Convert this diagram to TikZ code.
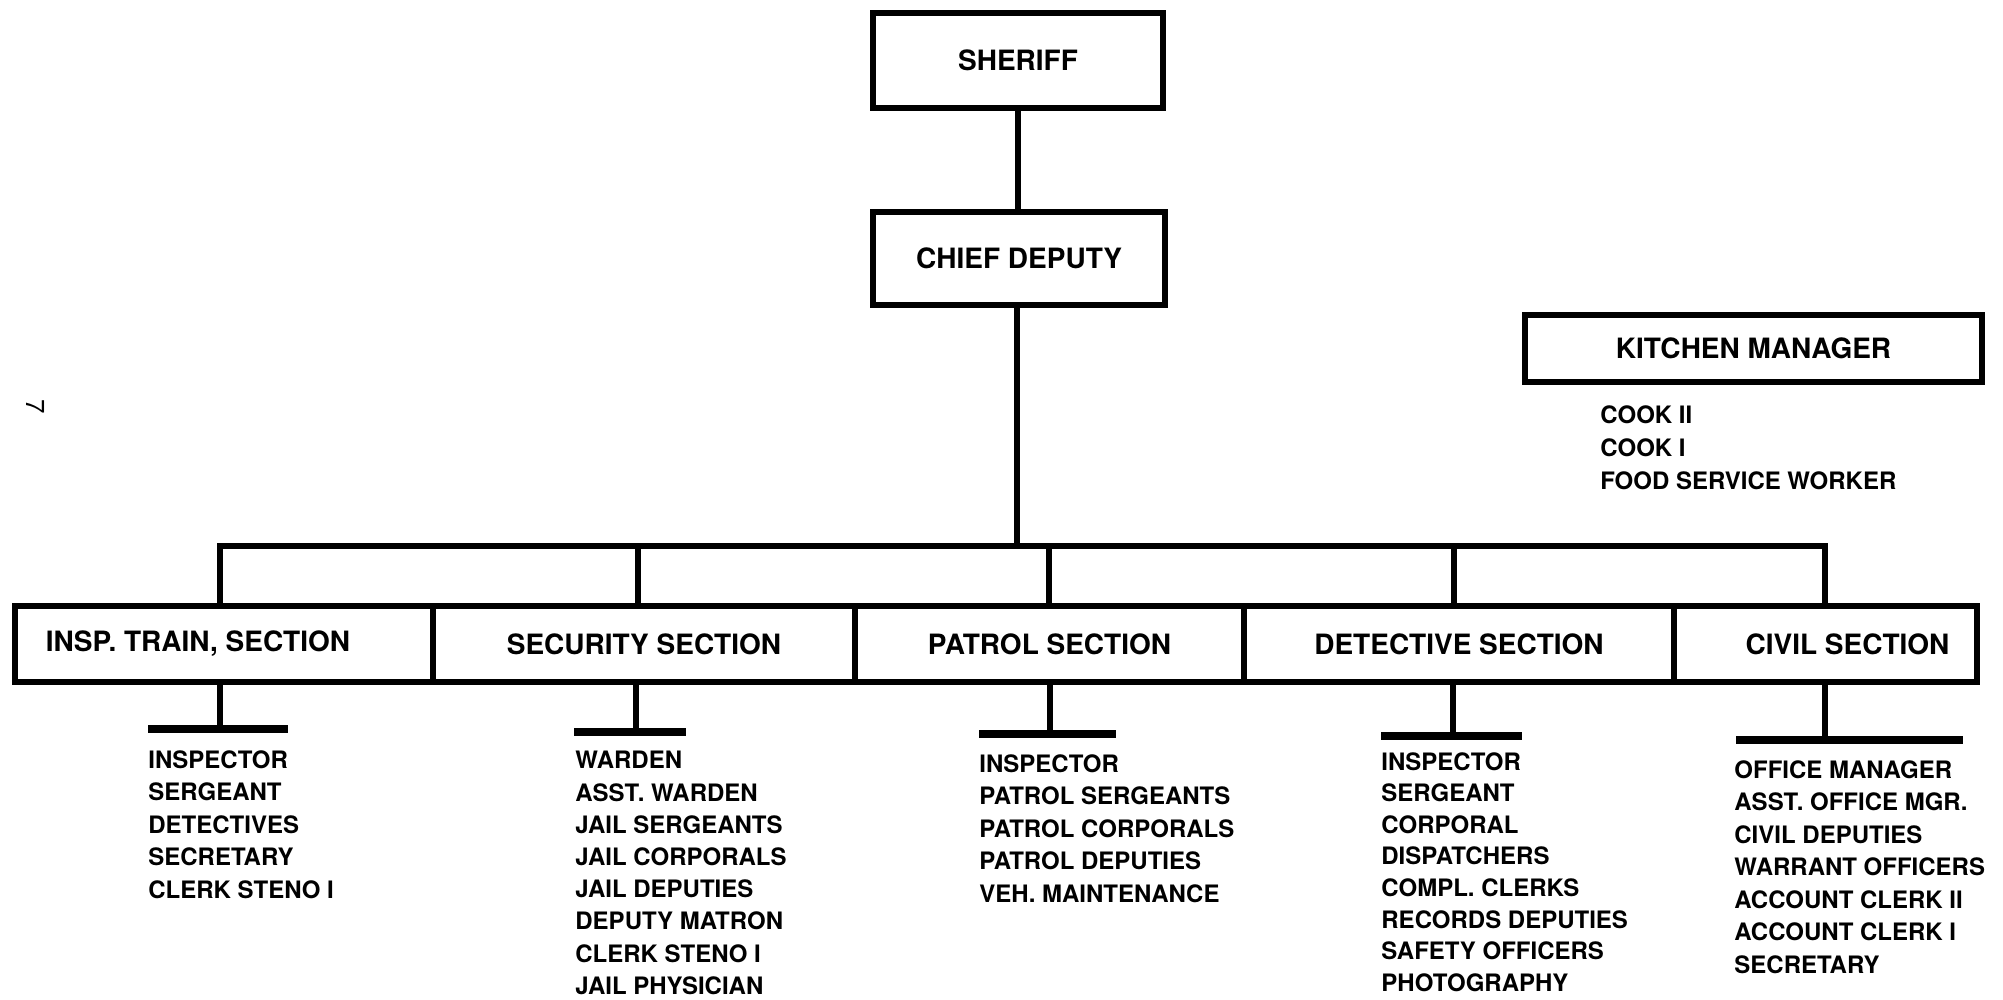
\documentclass[tikz,border=0pt]{standalone}
\usepackage{fontspec}
\setmainfont{TeX Gyre Heros}
\begin{document}
\begin{tikzpicture}[x=0.5pt,y=-0.5pt,
  box/.style={draw,line width=2.8pt,inner sep=0pt,font=\fontsize{14}{16}\selectfont\bfseries},
  secbox/.style={box,minimum height=38pt},
  link/.style={line width=2.8pt},
  bar/.style={line width=3.6pt},
  list/.style={anchor=north west,inner sep=0pt,align=left,font=\fontsize{12}{16.25}\selectfont\bfseries}]
\fill[white] (0,0) rectangle (2003,1000);
\useasboundingbox (0,0) rectangle (2003,1000);

% top boxes
\node[box,minimum width=145pt,minimum height=47.5pt] (sheriff) at (1018,60.5) {SHERIFF};
\node[box,minimum width=146pt,minimum height=46.5pt] (chief) at (1019,258.5) {CHIEF DEPUTY};
\node[box,minimum width=228.5pt,minimum height=33.5pt] (kitchen) at (1753.5,348.5) {KITCHEN MANAGER};
\node[list,font=\fontsize{12}{16.5}\selectfont\bfseries] (kitchenlist) at (1600,405) {COOK II\\COOK I\\FOOD SERVICE WORKER};

% page number
\node[rotate=-90,inner sep=0pt,font=\fontsize{13}{13}\selectfont] (pagenum) at (36,407) {7};

% sections
\node[secbox,minimum width=209pt] (insp) at (224,644) {\hspace*{-26pt}INSP. TRAIN, SECTION};
\node[secbox,minimum width=211pt] (sec) at (644,644) {SECURITY SECTION};
\node[secbox,minimum width=194.5pt] (patrol) at (1049.5,644) {PATROL SECTION};
\node[secbox,minimum width=215pt] (det) at (1459,644) {DETECTIVE SECTION};
\node[secbox,minimum width=151.5pt] (civil) at (1825.5,644) {CIVIL SECTION\hspace*{-22pt}};

% connectors above
\draw[link] (sheriff.south) -- (sheriff.south |- chief.north);
\coordinate (t1) at (220,546);
\coordinate (t2) at (638,546);
\coordinate (t3) at (1049,546);
\coordinate (t4) at (1454,546);
\coordinate (t5) at (1825,546);
\coordinate (tc) at (1017,546);
\draw[link] (tc |- chief.south) -- (tc);
\draw[link] (t1 |- insp.north) -- (t1) -- (t5) -- (t5 |- civil.north);
\draw[link] (t2) -- (t2 |- sec.north);
\draw[link] (t3) -- (t3 |- patrol.north);
\draw[link] (t4) -- (t4 |- det.north);

% connectors below with bars
\coordinate (d1) at (220,729);
\coordinate (d2) at (636,732);
\coordinate (d3) at (1050,734);
\coordinate (d4) at (1453,736);
\coordinate (d5) at (1825,740);
\draw[link] (d1 |- insp.south) -- (d1);
\draw[link] (d2 |- sec.south) -- (d2);
\draw[link] (d3 |- patrol.south) -- (d3);
\draw[link] (d4 |- det.south) -- (d4);
\draw[link] (d5 |- civil.south) -- (d5);
\draw[bar] (148,729) coordinate (b1l) -- (288,729) coordinate (b1r);
\draw[bar] (574,732) coordinate (b2l) -- (686,732) coordinate (b2r);
\draw[bar] (979,734) coordinate (b3l) -- (1116,734) coordinate (b3r);
\draw[bar] (1381,736) coordinate (b4l) -- (1522,736) coordinate (b4r);
\draw[bar] (1736,740) coordinate (b5l) -- (1963,740) coordinate (b5r);

% lists
\node[list] (insplist) at (148,750) {INSPECTOR\\SERGEANT\\DETECTIVES\\SECRETARY\\CLERK STENO I};
\node[list,font=\fontsize{12}{16.1}\selectfont\bfseries] (seclist) at (575,751) {WARDEN\\ASST. WARDEN\\JAIL SERGEANTS\\JAIL CORPORALS\\JAIL DEPUTIES\\DEPUTY MATRON\\CLERK STENO I\\JAIL PHYSICIAN};
\node[list] (patrollist) at (979,754) {INSPECTOR\\PATROL SERGEANTS\\PATROL CORPORALS\\PATROL DEPUTIES\\VEH. MAINTENANCE};
\node[list,font=\fontsize{12}{15.8}\selectfont\bfseries] (detlist) at (1381,752) {INSPECTOR\\SERGEANT\\CORPORAL\\DISPATCHERS\\COMPL. CLERKS\\RECORDS DEPUTIES\\SAFETY OFFICERS\\PHOTOGRAPHY};
\node[list] (civillist) at (1734,760) {OFFICE MANAGER\\ASST. OFFICE MGR.\\CIVIL DEPUTIES\\WARRANT OFFICERS\\ACCOUNT CLERK II\\ACCOUNT CLERK I\\SECRETARY};
\end{tikzpicture}
\end{document}
